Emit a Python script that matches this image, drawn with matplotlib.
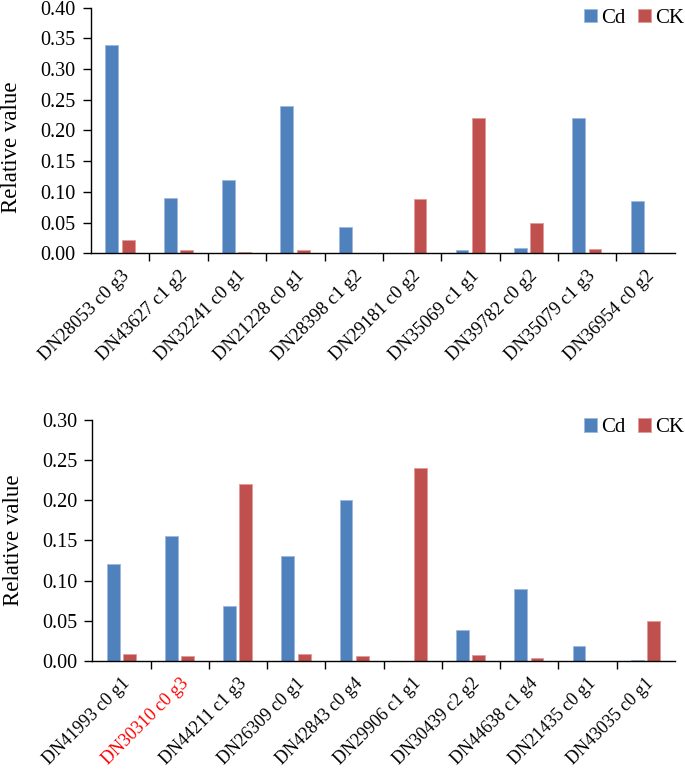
import matplotlib
matplotlib.use("Agg")
import matplotlib.pyplot as plt
import numpy as np
from matplotlib.ticker import FixedLocator, NullFormatter

plt.rcParams['font.family'] = ['Liberation Serif', 'DejaVu Serif']

genes_top = ["DN28053 c0 g3", "DN43627 c1 g2", "DN32241 c0 g1", "DN21228 c0 g1",
             "DN28398 c1 g2", "DN29181 c0 g2", "DN35069 c1 g1", "DN39782 c0 g2",
             "DN35079 c1 g3", "DN36954 c0 g2"]
cd_top = [0.34, 0.09, 0.12, 0.24, 0.042, 0.001, 0.005, 0.008, 0.22, 0.085]
ck_top = [0.021, 0.005, 0.002, 0.005, 0.001, 0.088, 0.22, 0.049, 0.007, 0.001]

genes_bot = ["DN41993 c0 g1", "DN30310 c0 g3", "DN44211 c1 g3", "DN26309 c0 g1",
             "DN42843 c0 g4", "DN29906 c1 g1", "DN30439 c2 g2", "DN44638 c1 g4",
             "DN21435 c0 g1", "DN43035 c0 g1"]
cd_bot = [0.12, 0.155, 0.068, 0.13, 0.20, 0.0, 0.038, 0.089, 0.018, 0.001]
ck_bot = [0.009, 0.006, 0.22, 0.009, 0.006, 0.24, 0.007, 0.004, 0.0, 0.049]
highlight_bot = "DN30310 c0 g3"

yticks_top = [0.00, 0.05, 0.10, 0.15, 0.20, 0.25, 0.30, 0.35, 0.40]
yticks_bot = [0.00, 0.05, 0.10, 0.15, 0.20, 0.25, 0.30]

BLUE = "#4F81BD"
RED = "#C0504D"

fig = plt.figure(figsize=(6.85, 7.72), dpi=100)
ax1 = fig.add_axes([0.133, 0.672, 0.852, 0.318])
ax2 = fig.add_axes([0.135, 0.144, 0.850, 0.312])


def draw(ax, genes, cd, ck, yticks, highlight=None, ylab_y=0.5, leg_y=1.0,
         xpad=10, xfs=13.5):
    x = np.arange(len(genes))
    w = 0.22
    ax.bar(x - 0.145, cd, width=w, color=BLUE, edgecolor="#9DB9DD", linewidth=0.6, label="Cd")
    ax.bar(x + 0.135, ck, width=w, color=RED, edgecolor="#E09A98", linewidth=0.6, label="CK")
    ax.set_xlim(-0.5, len(genes) - 0.5)
    ax.set_ylim(yticks[0], yticks[-1])
    ax.set_yticks(yticks)
    ax.set_yticklabels([f"{v:.2f}" for v in yticks], fontsize=14.5)
    ax.set_xticks(x)
    ax.set_xticklabels(genes, rotation=45, ha="right", rotation_mode="anchor", fontsize=xfs)
    ax.tick_params(axis="x", which="major", length=0, pad=xpad)
    ax.xaxis.set_minor_locator(FixedLocator(np.arange(0.5, len(genes) - 0.5, 1.0)))
    ax.xaxis.set_minor_formatter(NullFormatter())
    ax.tick_params(axis="x", which="minor", length=6, width=1, direction="out")
    ax.tick_params(axis="y", length=6, width=1, direction="out", pad=5)
    for s in ["top", "right"]:
        ax.spines[s].set_visible(False)
    for s in ["left", "bottom"]:
        ax.spines[s].set_linewidth(1)
    ax.set_ylabel("Relative value", fontsize=16.5)
    ax.yaxis.set_label_coords(-0.118, ylab_y)
    if highlight is not None:
        for lbl in ax.get_xticklabels():
            if lbl.get_text() == highlight:
                lbl.set_color("red")
    ax.legend(loc="upper right", ncol=2, frameon=False, fontsize=15,
              handlelength=0.62, handleheight=0.62, handletextpad=0.2,
              columnspacing=0.6, borderaxespad=0.0, borderpad=0.0,
              bbox_to_anchor=(1.016, leg_y))


draw(ax1, genes_top, cd_top, ck_top, yticks_top, ylab_y=0.43, leg_y=0.995,
     xpad=10, xfs=13.5)
draw(ax2, genes_bot, cd_bot, ck_bot, yticks_bot, highlight=highlight_bot,
     ylab_y=0.5, leg_y=1.008, xpad=10, xfs=13)

fig.savefig("out.png", dpi=100)
